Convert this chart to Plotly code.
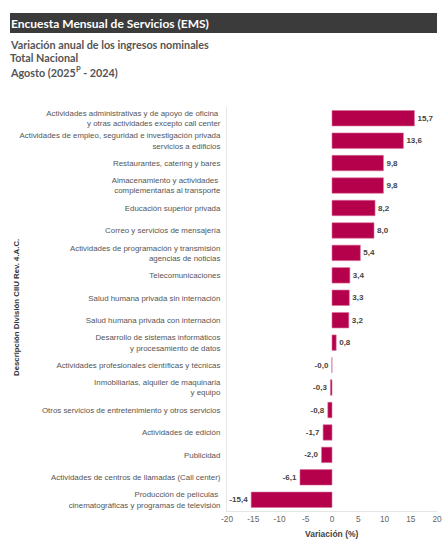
import plotly.graph_objects as go

categories = [
    "Actividades administrativas y de apoyo de oficina <br>y otras actividades excepto call center",
    "Actividades de empleo, seguridad e investigación privada<br>servicios a edificios",
    "Restaurantes, catering y bares",
    "Almacenamiento y actividades <br>complementarias al transporte",
    "Educación superior privada",
    "Correo y servicios de mensajería",
    "Actividades de programación y transmisión<br>agencias de noticias",
    "Telecomunicaciones",
    "Salud humana privada sin internación",
    "Salud humana privada con internación",
    "Desarrollo de sistemas informáticos<br>y procesamiento de datos",
    "Actividades profesionales científicas y técnicas",
    "Inmobiliarias, alquiler de maquinaria<br>y equipo",
    "Otros servicios de entretenimiento y otros servicios",
    "Actividades de edición",
    "Publicidad",
    "Actividades de centros de llamadas (Call center)",
    "Producción de películas <br>cinematográficas y programas de televisión",
]
values = [15.7, 13.6, 9.8, 9.8, 8.2, 8.0, 5.4, 3.4, 3.3, 3.2, 0.8, -0.02, -0.3, -0.8, -1.7, -2.0, -6.1, -15.4]
x_ticks = [-20, -15, -10, -5, 0, 5, 10, 15, 20]

labels = [f"{v:.1f}".replace(".", ",") for v in values]

fig = go.Figure(go.Bar(
    x=values, y=categories, orientation="h",
    marker=dict(color="#b5004b", line=dict(color="#d9739c", width=0.6)),
    text=labels, textposition="outside", cliponaxis=False,
    textfont=dict(family="Liberation Sans", size=8, color="#444444"),
    texttemplate="<b>%{text}</b>",
    hoverinfo="skip",
))

W, H = 447, 539
L, R, T, B = 227, 10, 107, 28
pw, ph = W - L - R, H - T - B

def px(x):
    return (x - L) / pw

def py(y):
    return (H - B - y) / ph

fig.update_layout(
    width=W, height=H,
    margin=dict(l=L, r=R, t=T, b=B),
    paper_bgcolor="white", plot_bgcolor="white",
    showlegend=False,
    bargap=0.31,
    xaxis=dict(range=[-20, 20], tickvals=x_ticks, ticktext=[str(t) for t in x_ticks],
               showgrid=False, zeroline=False, showline=True, linecolor="#e6e6e6",
               automargin=False,
               tickfont=dict(family="Liberation Sans", size=8.3, color="#666666")),
    yaxis=dict(autorange="reversed", showgrid=False, zeroline=False, showline=True,
               linecolor="#e6e6e6", ticks="", ticklabelstandoff=4, automargin=False,
               tickfont=dict(family="Liberation Sans", size=7.9, color="#555555")),
    shapes=[dict(type="rect", xref="paper", yref="paper",
                 x0=px(10), x1=px(437), y0=py(33), y1=py(13),
                 fillcolor="#3b3b3b", line=dict(width=0), layer="above")],
    annotations=[
        dict(text="<b>Encuesta Mensual de Servicios (EMS)</b>", xref="paper", yref="paper",
             x=px(9), y=py(23), xanchor="left", yanchor="middle", showarrow=False,
             font=dict(family="Lato", size=12, color="white")),
        dict(text="<b>Variación anual de los ingresos nominales</b>", xref="paper", yref="paper",
             x=px(8), y=py(44), xanchor="left", yanchor="middle", showarrow=False,
             font=dict(family="Lato", size=10.8, color="#555555")),
        dict(text="<b>Total Nacional</b>", xref="paper", yref="paper",
             x=px(8), y=py(58), xanchor="left", yanchor="middle", showarrow=False,
             font=dict(family="Lato", size=10.8, color="#555555")),
        dict(text="<b>Agosto (2025<sup>P</sup> - 2024)</b>", xref="paper", yref="paper",
             x=px(8), y=py(72), xanchor="left", yanchor="middle", showarrow=False,
             font=dict(family="Lato", size=10.8, color="#555555")),
        dict(text="<b>Descripción División CIIU Rev. 4.A.C.</b>", xref="paper", yref="paper",
             x=px(16), y=py(308), xanchor="center", yanchor="middle", textangle=-90,
             showarrow=False, font=dict(family="Liberation Sans", size=7.8, color="#333333")),
        dict(text="<b>Variación (%)</b>", xref="paper", yref="paper",
             x=0.5, y=py(534), xanchor="center", yanchor="middle",
             showarrow=False, font=dict(family="Liberation Sans", size=8.5, color="#444444")),
    ],
)

fig.write_html("out.html", config={"displayModeBar": False},
               post_script="document.body.style.margin='0';")
